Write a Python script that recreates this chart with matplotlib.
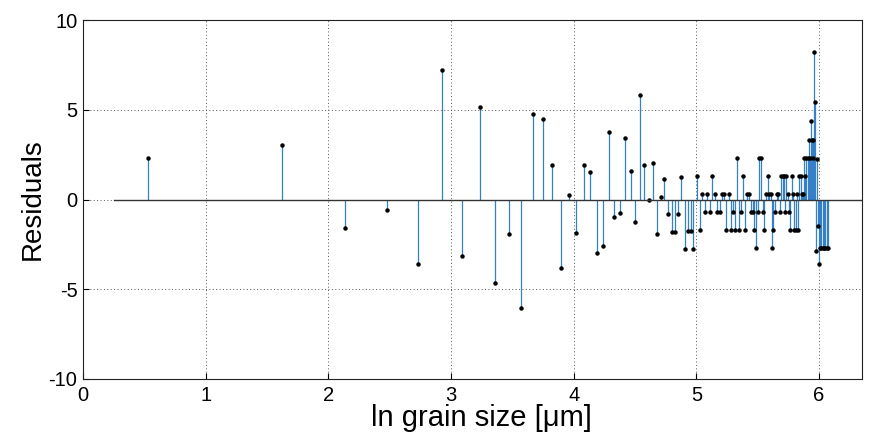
import numpy as np
import matplotlib.pyplot as plt

plt.rcParams['font.family'] = ['Liberation Sans', 'DejaVu Sans']
plt.rcParams['axes.unicode_minus'] = False

# ln grain size [um] and residuals
grain = [0.53, 1.626, 2.136, 2.475, 2.727, 2.927, 3.093, 3.233, 3.361, 3.469,
         3.569, 3.664, 3.746, 3.824, 3.897, 3.960, 4.022, 4.081, 4.136, 4.190,
         4.239, 4.288, 4.331, 4.374, 4.420, 4.463, 4.502, 4.537, 4.574, 4.610,
         4.646, 4.679, 4.708, 4.738, 4.768, 4.798, 4.825, 4.852, 4.877, 4.904,
         4.931, 4.953, 4.975, 5.002, 5.026, 5.045, 5.067, 5.089, 5.107, 5.129,
         5.151, 5.170, 5.189, 5.208, 5.225, 5.244, 5.262, 5.279, 5.298, 5.314,
         5.331, 5.347, 5.363, 5.380, 5.396, 5.412, 5.428, 5.445, 5.458, 5.469,
         5.483, 5.499, 5.513, 5.527, 5.540, 5.554, 5.568, 5.581, 5.595, 5.605,
         5.616, 5.627, 5.641, 5.654, 5.668, 5.678, 5.690, 5.703, 5.717, 5.722,
         5.733, 5.743, 5.755, 5.765, 5.776, 5.788, 5.798, 5.809, 5.820, 5.830,
         5.838, 5.849, 5.860, 5.868, 5.877, 5.887, 5.895, 5.906, 5.914, 5.922,
         5.931, 5.939, 5.947, 5.953, 5.961, 5.969, 5.977, 5.985, 5.993, 6.002,
         6.010, 6.018, 6.029, 6.040, 6.051, 6.062, 6.073]

resid = [2.32, 3.05, -1.58, -0.60, -3.57, 7.19, -3.12, 5.16, -4.63, -1.90,
         -6.04, 4.79, 4.46, 1.93, -3.83, 0.26, -1.84, 1.90, 1.52, -2.99,
         -2.58, 3.77, -0.97, -0.74, 3.45, 1.60, -1.28, 5.85, 1.91, -0.04,
         2.05, -1.93, 0.13, 1.15, -0.82, -1.80, -1.80, -0.78, 1.27, -2.75,
         -1.75, -1.75, -2.73, 1.30, -1.71, 0.30, -0.69, 0.30, -0.69, 1.32,
         0.30, -0.69, -0.69, 0.30, 0.30, -1.71, 0.30, -1.71, -0.69, -1.71,
         2.32, -1.71, -0.69, 1.32, -1.71, 0.30, 0.30, -0.69, -0.69, -1.71,
         -2.69, -0.69, 2.32, 2.32, -0.69, -1.71, 0.30, 1.32, 0.30, 0.30,
         -2.69, -1.71, -0.69, 0.30, 0.30, -0.69, 1.32, 1.32, 1.32, -0.69,
         1.32, 0.30, -0.69, -1.71, 1.32, 0.30, -1.71, -1.71, 0.30, -1.71,
         1.32, 1.32, 0.30, 0.30, 2.32, 1.32, 2.32, 2.32, 3.33, 2.32,
         4.35, 3.33, 3.33, 2.32, 8.21, 5.45, -2.88, 2.23, -1.45, -3.62,
         -2.69, -2.69, -2.69, -2.69, -2.69, -2.69, -2.69]

baseline_x = [0.25, 6.35]

fig = plt.figure(figsize=(8.71, 4.41), dpi=100)
ax = fig.add_axes([0.0953, 0.1406, 0.8944, 0.814])

# stems, markers, baseline
ax.vlines(grain, 0, resid, color='#3580c6', linewidth=0.9, zorder=2)
ax.plot(grain, resid, 'o', color='black', markersize=2.2, zorder=3)
ax.plot(baseline_x, [0, 0], color='#333333', linewidth=1.0, zorder=4)

ax.set_xlim(0, 6.35)
ax.set_ylim(-10, 10)
ax.set_xticks(np.arange(0, 7, 1))
ax.set_yticks([-10, -5, 0, 5, 10])
ax.grid(True, linestyle=(0, (1, 2.5)), color='#555555', linewidth=0.7)
ax.set_axisbelow(True)
ax.tick_params(direction='in', length=4, labelsize=14.5, top=False, right=False)
ax.tick_params(axis='x', pad=5)
ax.tick_params(axis='y', pad=4)
for s in ax.spines.values():
    s.set_color('#222222')
    s.set_linewidth(0.8)

ax.set_xlabel('ln grain size [\u03bcm]', fontsize=21, labelpad=-1)
ax.xaxis.label.set_x(0.512)
ax.set_ylabel('Residuals', fontsize=20, labelpad=2)

fig.savefig('out.png', dpi=100)
